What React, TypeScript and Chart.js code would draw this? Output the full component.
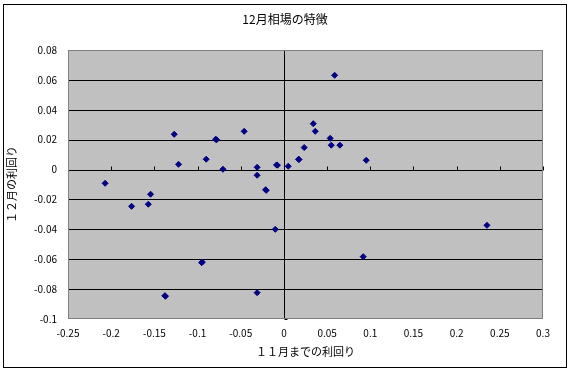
import React, { useEffect, useRef } from "react";
import { Chart, registerables } from "chart.js";

Chart.register(...registerables);

const chartTitle = "12月相場の特徴";
const xAxisTitle = "１１月までの利回り";
const yAxisTitle = "１２月の利回り";

const novReturns = [
  -0.207, -0.127, -0.122, -0.09, -0.079, -0.078, -0.0706, -0.046, -0.031, -0.031,
  -0.0212, -0.0205, -0.0085, -0.0075, 0.005, 0.017, 0.0175, 0.0235, 0.034, 0.0363,
  0.0536, 0.0548, 0.0648, 0.0587, 0.0953, -0.1544, -0.1764, -0.157, -0.01, -0.0953,
  -0.0945, -0.1378, -0.1372, -0.031, 0.2351, 0.0918,
];
const decReturns = [
  -0.0092, 0.0236, 0.0035, 0.0069, 0.0203, 0.0199, 0.0002, 0.0256, 0.0015, -0.0038,
  -0.0135, -0.0139, 0.0031, 0.0029, 0.0022, 0.0069, 0.0067, 0.0147, 0.0307, 0.0256,
  0.0209, 0.0163, 0.0163, 0.0631, 0.0062, -0.0165, -0.0246, -0.0232, -0.04, -0.0623,
  -0.0619, -0.0844, -0.0848, -0.0824, -0.0373, -0.0583,
];

const xMin = -0.25, xMax = 0.3, xStep = 0.05;
const yMin = -0.1, yMax = 0.08, yStep = 0.02;

const FONT = '"Noto Sans CJK JP", "Noto Sans", sans-serif';

const fmt = (v: number) => String(Math.round(v * 1000) / 1000);

const excelPlugin = {
  id: "excelFrame",
  beforeDraw(chart: any) {
    const { ctx, width, height } = chart;
    ctx.save();
    ctx.fillStyle = "#ffffff";
    ctx.fillRect(0, 0, width, height);
    ctx.strokeStyle = "#000000";
    ctx.lineWidth = 1;
    ctx.strokeRect(3.5, 4.5, 563, 363);
    ctx.restore();
  },
  beforeDatasetsDraw(chart: any) {
    const { ctx, chartArea: a, scales } = chart;
    const xs = scales.x, ys = scales.y;
    ctx.save();
    ctx.fillStyle = "#C0C0C0";
    ctx.fillRect(a.left, a.top, a.right - a.left, a.bottom - a.top);
    ctx.strokeStyle = "#000000";
    ctx.lineWidth = 1;
    ys.ticks.forEach((t: any) => {
      const y = Math.round(ys.getPixelForValue(t.value)) + 0.5;
      if (y <= a.top + 1 || y >= a.bottom - 1) return;
      ctx.beginPath();
      ctx.moveTo(a.left, y);
      ctx.lineTo(a.right, y);
      ctx.stroke();
    });
    // vertical axis at x = 0
    const x0 = Math.round(xs.getPixelForValue(0)) + 0.5;
    ctx.beginPath();
    ctx.moveTo(x0, a.top);
    ctx.lineTo(x0, a.bottom);
    ctx.stroke();
    // tick marks on horizontal axis (y = 0)
    const y0 = Math.round(ys.getPixelForValue(0)) + 0.5;
    xs.ticks.forEach((t: any) => {
      const x = Math.round(xs.getPixelForValue(t.value)) + 0.5;
      ctx.beginPath();
      ctx.moveTo(x, y0);
      ctx.lineTo(x, y0 - 4);
      ctx.stroke();
    });
    // tick marks on vertical axis
    ys.ticks.forEach((t: any) => {
      const y = Math.round(ys.getPixelForValue(t.value)) + 0.5;
      ctx.beginPath();
      ctx.moveTo(x0, y);
      ctx.lineTo(x0 + 3, y);
      ctx.stroke();
    });
    ctx.strokeStyle = "#808080";
    ctx.strokeRect(a.left + 0.5, a.top + 0.5, a.right - a.left - 1, a.bottom - a.top - 1);
    ctx.restore();
  },
  afterDraw(chart: any) {
    const { ctx, chartArea: a } = chart;
    ctx.save();
    ctx.fillStyle = "#000000";
    ctx.textAlign = "center";
    ctx.textBaseline = "middle";
    ctx.font = `12px ${FONT}`;
    ctx.fillText(chartTitle, 285, 19);
    ctx.font = `11px ${FONT}`;
    ctx.fillText(xAxisTitle, (a.left + a.right) / 2, 352);
    ctx.translate(12, (a.top + a.bottom) / 2);
    ctx.rotate(-Math.PI / 2);
    ctx.fillText(yAxisTitle, 0, 0);
    ctx.restore();
  },
};

export default function App() {
  const ref = useRef<HTMLCanvasElement>(null);
  useEffect(() => {
    document.body.style.margin = "0";
    const points = novReturns.map((x, i) => ({ x, y: decReturns[i] }));
    const chart = new Chart(ref.current as HTMLCanvasElement, {
      type: "scatter",
      data: {
        datasets: [
          {
            data: points,
            pointStyle: "rectRot",
            pointRadius: 3,
            pointBackgroundColor: "#000080",
            pointBorderColor: "#000080",
            pointBorderWidth: 1,
          },
        ],
      },
      options: {
        animation: false,
        responsive: false,
        devicePixelRatio: 1,
        layout: { padding: { left: 8, top: 50, right: 28, bottom: 0 } },
        plugins: { legend: { display: false }, title: { display: false }, tooltip: { enabled: false } },
        scales: {
          x: {
            type: "linear",
            min: xMin,
            max: xMax,
            afterFit: (s: any) => { s.height = 52; },
            grid: { display: false, drawTicks: false },
            border: { display: false },
            ticks: {
              stepSize: xStep,
              padding: 8,
              color: "#000000",
              font: { size: 10, family: FONT },
              maxRotation: 0,
              autoSkip: false,
              callback: (v: any) => fmt(Number(v)),
            },
          },
          y: {
            type: "linear",
            min: yMin,
            max: yMax,
            afterFit: (s: any) => { s.width = 60; },
            grid: { display: false, drawTicks: false },
            border: { display: false },
            ticks: {
              stepSize: yStep,
              padding: 11,
              color: "#000000",
              font: { size: 10, family: FONT },
              autoSkip: false,
              callback: (v: any) => fmt(Number(v)),
            },
          },
        },
      },
      plugins: [excelPlugin],
    } as any);
    return () => chart.destroy();
  }, []);
  return (
    <div style={{ width: 571, height: 371, overflow: "hidden" }}>
      <canvas ref={ref} width={571} height={371} style={{ display: "block" }} />
    </div>
  );
}
